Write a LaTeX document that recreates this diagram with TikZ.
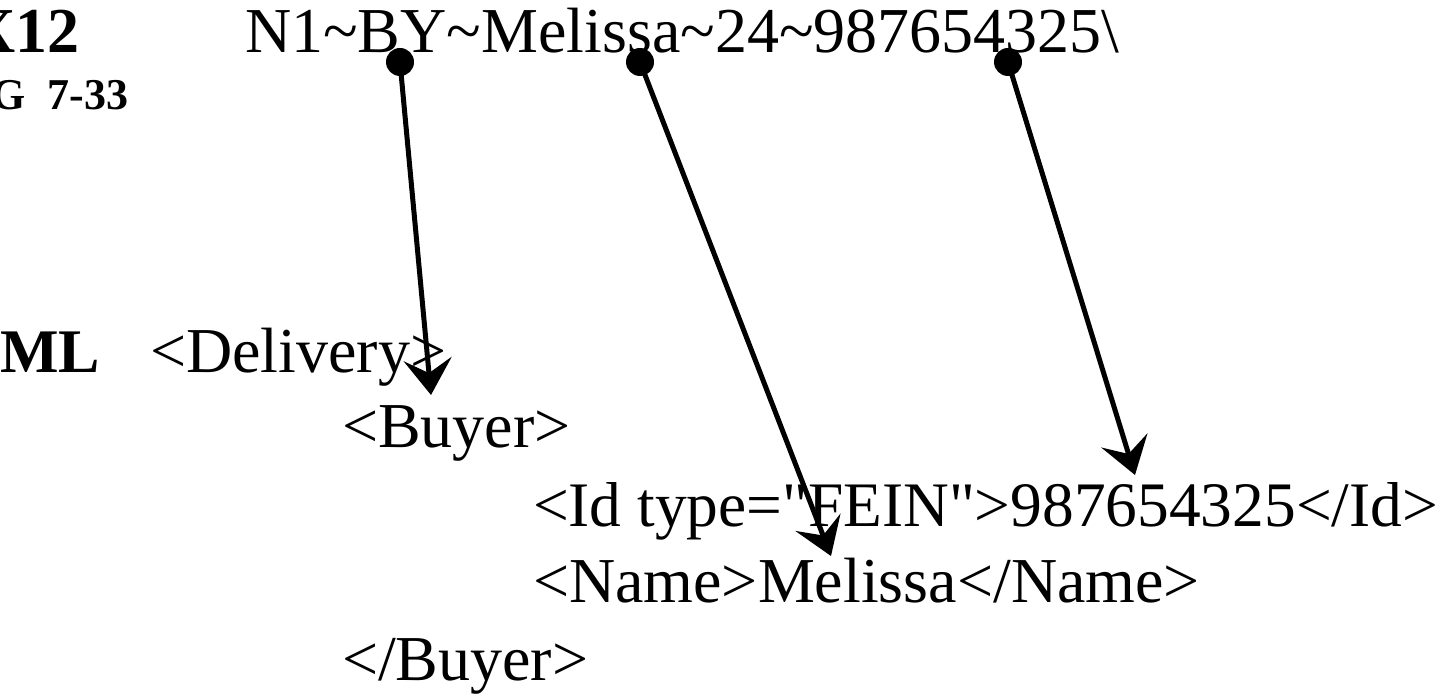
\documentclass[tikz,border=0pt]{standalone}
\usepackage{fontspec}
\setmainfont{Liberation Serif}
\newfontfamily\plainserif{Liberation Serif}
\usetikzlibrary{arrows.meta}
\tikzset{
  txt/.style={inner sep=0pt, outer sep=0pt, font=\fontsize{32}{38}\selectfont},
  btxt/.style={inner sep=0pt, outer sep=0pt},
  dot/.style={circle, fill=black, minimum size=14pt, inner sep=0pt},
  link/.style={line width=2.5pt, -{Stealth[length=18pt, width=24pt, inset=7pt]}}
}
\begin{document}
\begin{tikzpicture}[x=0.5pt, y=-0.5pt]
\useasboundingbox (0,0) rectangle (1456,694);
% left labels (cropped)
\node[btxt, anchor=base east, font=\fontsize{32}{36}\bfseries] (x12) at (80,53) {X12};
\node[btxt, anchor=base east, font=\fontsize{22}{26}\bfseries] (fig) at (128,110) {G\hspace{0.5em}7-33};
\node[btxt, anchor=base east, font=\fontsize{31}{36}\bfseries] (xml) at (100,373) {ML};
% EDI line
\node[txt, anchor=base west] (edi) at (245,53) {N1\textasciitilde BY\textasciitilde Melissa\textasciitilde 24\textasciitilde 987654325\textbackslash};
% XML lines
\node[txt, anchor=base west] (deliv) at (150,373) {<Delivery>};
\node[txt, anchor=base west] (buyer) at (342,448) {<Buyer>};
\node[txt, anchor=base west, font=\fontsize{31.7}{38}\plainserif] (id) at (533,527) {<Id type="FEIN">987654325</Id>};
\node[txt, anchor=base west] (name) at (533,603) {<Name>Melissa</Name>};
\node[txt, anchor=base west] (ebuyer) at (342,680) {</Buyer>};
% dots
\node[dot] (d1) at (400,62) {};
\node[dot] (d2) at (640,62) {};
\node[dot] (d3) at (1008,62) {};
% arrow tips
\coordinate (t1) at (431,395);
\coordinate (t2) at (831,556);
\coordinate (t3) at (1135,475);
\draw[link] (d1.center) -- (t1);
\draw[link] (d2.center) -- (t2);
\draw[link] (d3.center) -- (t3);
\end{tikzpicture}
\end{document}
